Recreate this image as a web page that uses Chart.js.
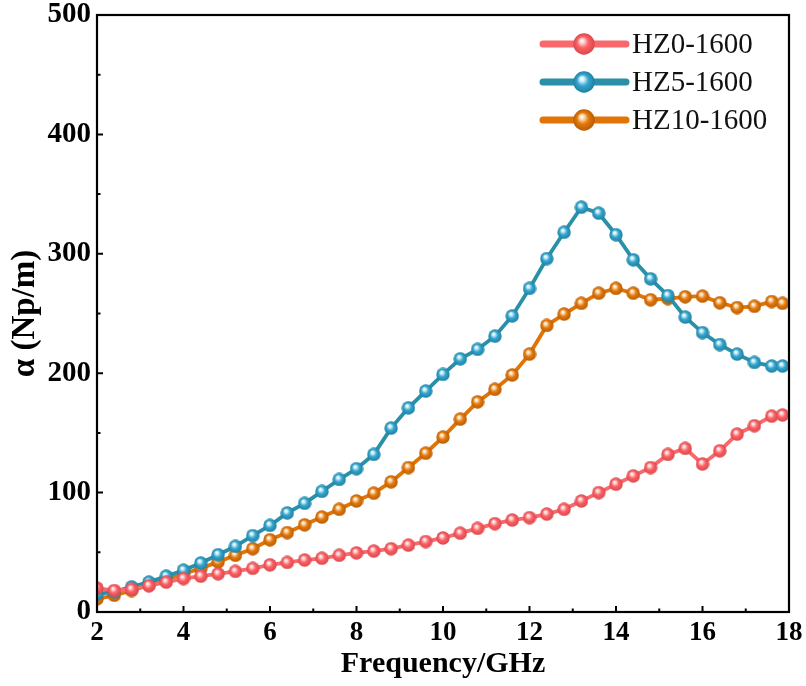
<!DOCTYPE html>
<html>
<head>
<meta charset="utf-8">
<script src="https://cdn.jsdelivr.net/npm/chart.js@4"></script>
<style>
  html, body { margin: 0; padding: 0; background: #fff; }
  #wrap { width: 806px; height: 686px; }
</style>
</head>
<body>
<div id="wrap"><canvas id="alphaChart" width="806" height="686"></canvas></div>
<script>
// frequency points (GHz)
const freq = [2.0, 2.4, 2.8, 3.2, 3.6, 4.0, 4.4, 4.8, 5.2, 5.6,
              6.0, 6.4, 6.8, 7.2, 7.6, 8.0, 8.4, 8.8, 9.2, 9.6,
              10.0, 10.4, 10.8, 11.2, 11.6, 12.0, 12.4, 12.8, 13.2, 13.6,
              14.0, 14.4, 14.8, 15.2, 15.6, 16.0, 16.4, 16.8, 17.2, 17.6, 17.85];

const hz0 = [20, 18, 19, 22, 25, 28, 30, 32, 34, 36.5,
             39.5, 41.5, 43.5, 45, 47.5, 49.5, 51, 53, 56, 59,
             62, 66, 70, 74, 77, 79, 82, 86, 93, 100,
             107, 114, 121, 132, 137, 124, 135, 149, 156, 164, 165];

const hz5 = [15, 17, 21, 25, 30, 35, 41, 48, 55, 64,
             72.5, 83, 91, 101, 111, 120, 132, 154, 171, 185,
             199, 212, 220, 231, 248, 271, 296, 318, 339, 334,
             316, 295, 279, 265, 247, 234, 224, 216, 209, 206, 206];

const hz10 = [11, 14, 18, 22.5, 27, 32, 36.5, 42, 47.5, 53,
              60.5, 66.5, 73, 79.5, 86, 93, 99.5, 109, 121, 133,
              146.5, 161.5, 176, 186.5, 198.5, 216, 240, 249.5, 258.5, 267,
              271, 267, 261.5, 262.5, 264, 264.5, 259, 255, 256, 260, 258.5];

const seriesNames = ['HZ0-1600', 'HZ5-1600', 'HZ10-1600'];
const lineColors = ['#f7696c', '#2a90a8', '#e07404'];
const ballColors = [
  ['#ffd0d0', '#fb6064', '#d8464a'],
  ['#cdeefa', '#34a5cd', '#1d7e9f'],
  ['#ffdcb4', '#e37a0e', '#b65a00']
];

const xMin = 2, xMax = 18, xStep = 2;
const yMin = 0, yMax = 500, yStep = 100;

const serif = "'Liberation Serif', 'Times New Roman', serif";

function makeBall(cols, r) {
  const c = document.createElement('canvas');
  c.width = c.height = 2 * r;
  const g = c.getContext('2d');
  const grad = g.createRadialGradient(r * 0.78, r * 0.68, r * 0.04, r, r, r);
  grad.addColorStop(0, '#ffffff');
  grad.addColorStop(0.18, cols[0]);
  grad.addColorStop(0.5, cols[1]);
  grad.addColorStop(1, cols[2]);
  g.fillStyle = grad;
  g.beginPath();
  g.arc(r, r, r - 0.3, 0, Math.PI * 2);
  g.fill();
  return c;
}

const balls = ballColors.map(c => makeBall(c, 7));
const legendBalls = ballColors.map(c => makeBall(c, 11));

function toPoints(vals) {
  return vals.map((v, i) => ({ x: freq[i], y: v }));
}

// frame + inward ticks
const framePlugin = {
  id: 'frame',
  afterDatasetsDraw(chart) {
    const { ctx, chartArea: a, scales } = chart;
    const xs = scales.x, ys = scales.y;
    ctx.save();
    ctx.strokeStyle = '#000';
    ctx.lineWidth = 2;
    ctx.beginPath();
    for (let v = xMin; v <= xMax + 1e-9; v += 1) {
      const px = xs.getPixelForValue(v);
      const len = (v % xStep === 0) ? 6 : 3.5;
      ctx.moveTo(px, a.bottom);
      ctx.lineTo(px, a.bottom - len);
    }
    for (let v = yMin; v <= yMax + 1e-9; v += 50) {
      const py = ys.getPixelForValue(v);
      const len = (v % yStep === 0) ? 6 : 3.5;
      ctx.moveTo(a.left, py);
      ctx.lineTo(a.left + len, py);
    }
    ctx.stroke();
    ctx.lineWidth = 2.2;
    ctx.strokeRect(a.left, a.top, a.right - a.left, a.bottom - a.top);
    ctx.restore();
  }
};

// legend: line + ball + label
const legendPlugin = {
  id: 'ballLegend',
  afterDraw(chart) {
    const ctx = chart.ctx;
    ctx.save();
    ctx.font = "29px " + serif;
    ctx.textBaseline = 'middle';
    ctx.fillStyle = '#111';
    seriesNames.forEach((name, i) => {
      const y = 44 + i * 38;
      ctx.strokeStyle = lineColors[i];
      ctx.lineWidth = 7;
      ctx.lineCap = 'round';
      ctx.beginPath();
      ctx.moveTo(543, y);
      ctx.lineTo(626, y);
      ctx.stroke();
      ctx.drawImage(legendBalls[i], 584 - 11, y - 11);
      ctx.fillText(name, 632, y + 1);
    });
    ctx.restore();
  }
};

const datasets = [hz0, hz5, hz10].map((vals, i) => ({
  label: seriesNames[i],
  data: toPoints(vals),
  borderColor: lineColors[i],
  borderWidth: 3.8,
  pointStyle: balls[i],
  pointRadius: 7,
  pointHoverRadius: 7,
  tension: 0
}));

new Chart(document.getElementById('alphaChart').getContext('2d'), {
  type: 'line',
  data: { datasets: datasets },
  options: {
    responsive: false,
    animation: false,
    layout: { padding: { top: 15, right: 17, left: 0, bottom: 0 } },
    plugins: {
      legend: { display: false },
      tooltip: { enabled: false }
    },
    scales: {
      x: {
        type: 'linear',
        min: xMin,
        max: xMax,
        border: { display: false },
        grid: { display: false, drawTicks: false },
        ticks: {
          stepSize: xStep,
          padding: 5,
          color: '#000',
          font: { family: serif, weight: 'bold', size: 27 }
        },
        title: {
          display: true,
          text: 'Frequency/GHz',
          color: '#000',
          padding: { top: 0, bottom: 4 },
          font: { family: serif, weight: 'bold', size: 30 }
        },
        afterFit(scale) {
          scale.height = 74;
          scale.paddingLeft = 0;
          scale.paddingRight = 0;
        }
      },
      y: {
        min: yMin,
        max: yMax,
        border: { display: false },
        grid: { display: false, drawTicks: false },
        ticks: {
          stepSize: yStep,
          padding: 6,
          color: '#000',
          font: { family: serif, weight: 'bold', size: 29 }
        },
        title: {
          display: true,
          text: 'α (Np/m)',
          color: '#000',
          padding: { top: 6, bottom: 0 },
          font: { family: serif, weight: 'bold', size: 33 }
        },
        afterFit(scale) {
          scale.width = 97;
          scale.paddingTop = 0;
          scale.paddingBottom = 0;
        }
      }
    }
  },
  plugins: [framePlugin, legendPlugin]
});
</script>
</body>
</html>
